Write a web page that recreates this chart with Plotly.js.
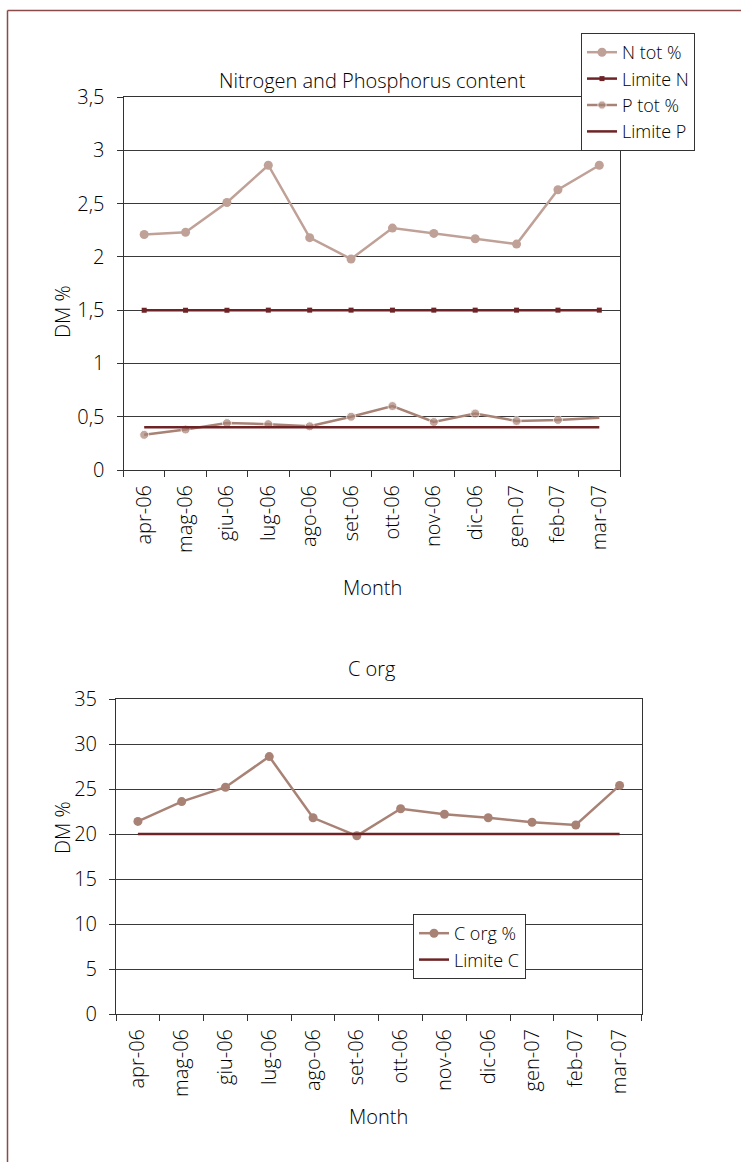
<!DOCTYPE html>
<html>
<head>
<meta charset="utf-8">
<script src="https://cdn.plot.ly/plotly-3.0.1.min.js"></script>
<style>
  html, body { margin: 0; padding: 0; background: #fff; }
  #chart { width: 741px; height: 1162px; }
</style>
</head>
<body>
<div id="chart"></div>
<script>
// Monthly sampling, April 2006 – March 2007
const months = ["apr-06", "mag-06", "giu-06", "lug-06", "ago-06", "set-06",
                "ott-06", "nov-06", "dic-06", "gen-07", "feb-07", "mar-07"];

// Total nitrogen, % of dry matter
const nTot = [2.21, 2.23, 2.51, 2.86, 2.18, 1.98, 2.27, 2.22, 2.17, 2.12, 2.63, 2.86];
// Total phosphorus, % of dry matter
const pTot = [0.33, 0.38, 0.44, 0.43, 0.41, 0.50, 0.60, 0.45, 0.53, 0.46, 0.47, 0.49];
// Organic carbon, % of dry matter
const cOrg = [21.4, 23.6, 25.2, 28.6, 21.8, 19.8, 22.8, 22.2, 21.8, 21.3, 21.0, 25.4];

// Regulatory limits
const limitN = 1.5;
const limitP = 0.4;
const limitC = 20;

const W = 741, H = 1162;
const fx = x => x / W;
const fy = y => 1 - y / H;

const FONT = "'Open Sans', Lato, sans-serif";
const WEIGHT = 300;
const TXT = "#000";
const COL_N = "#c0a197";
const COL_P = "#a98276";
const COL_C = "#a98276";
const COL_LIM = "#6e2426";

const flat = v => months.map(() => v);

const traces = [
  {
    name: "N tot %", x: months, y: nTot, xaxis: "x", yaxis: "y",
    mode: "lines+markers", line: { color: COL_N, width: 2.5 },
    marker: { color: COL_N, size: 9 }, legend: "legend"
  },
  {
    name: "Limite N", x: months, y: flat(limitN), xaxis: "x", yaxis: "y",
    mode: "lines+markers", line: { color: COL_LIM, width: 2.5 },
    marker: { color: COL_LIM, size: 5, symbol: "square" }, legend: "legend"
  },
  {
    name: "P tot %", x: months, y: pTot, xaxis: "x", yaxis: "y",
    mode: "lines+markers", line: { color: COL_P, width: 2.5 },
    marker: { color: COL_P, size: months.map((m, i) => i === months.length - 1 ? 0 : 9) },
    legend: "legend"
  },
  {
    name: "Limite P", x: months, y: flat(limitP), xaxis: "x", yaxis: "y",
    mode: "lines", line: { color: COL_LIM, width: 2.5 }, legend: "legend"
  },
  {
    name: "C org %", x: months, y: cOrg, xaxis: "x2", yaxis: "y2",
    mode: "lines+markers", line: { color: COL_C, width: 2.5 },
    marker: { color: COL_C, size: 9 }, legend: "legend2"
  },
  {
    name: "Limite C", x: months, y: flat(limitC), xaxis: "x2", yaxis: "y2",
    mode: "lines", line: { color: COL_LIM, width: 2.5 }, legend: "legend2"
  }
];

const font = size => ({ family: FONT, size, color: TXT, weight: WEIGHT });

const xCommon = {
  type: "category", range: [-0.5, 11.5], tickangle: -90,
  ticks: "outside", tickson: "boundaries", ticklen: 6, tickcolor: "#333",
  ticklabelstandoff: 6,
  showline: true, linecolor: "#333", linewidth: 1, mirror: true,
  showgrid: false, zeroline: false,
  tickfont: font(20), fixedrange: true
};
const yCommon = {
  ticks: "outside", ticklen: 6, tickcolor: "#333",
  ticklabelstandoff: 8,
  showline: true, linecolor: "#333", linewidth: 1, mirror: true,
  showgrid: true, gridcolor: "#3a3a3a", gridwidth: 1, zeroline: false,
  tickfont: font(20), fixedrange: true
};

const ann = (text, x, y, size, angle) => ({
  text, x: fx(x), y: fy(y), xref: "paper", yref: "paper",
  showarrow: false, textangle: angle || 0, font: font(size)
});

const legendBase = {
  bordercolor: "#333", borderwidth: 1, bgcolor: "#fff",
  font: font(18),
  xanchor: "left", yanchor: "top", tracegroupgap: 0, itemwidth: 30
};

const layout = {
  width: W, height: H,
  margin: { l: 0, r: 0, t: 0, b: 0 },
  paper_bgcolor: "#fff", plot_bgcolor: "#fff",
  separators: ",.",
  font: { family: FONT, color: TXT, weight: WEIGHT },
  xaxis: Object.assign({}, xCommon, { domain: [fx(123.5), fx(620)], anchor: "y" }),
  yaxis: Object.assign({}, yCommon, { domain: [fy(470), fy(97)], anchor: "x",
                                     range: [0, 3.5], dtick: 0.5 }),
  xaxis2: Object.assign({}, xCommon, { domain: [fx(116), fx(641.5)], anchor: "y2" }),
  yaxis2: Object.assign({}, yCommon, { domain: [fy(1014), fy(699)], anchor: "x2",
                                      range: [0, 35], dtick: 5 }),
  legend: Object.assign({}, legendBase, { x: fx(581), y: fy(33) }),
  legend2: Object.assign({}, legendBase, { x: fx(413), y: fy(914) }),
  annotations: [
    ann("Nitrogen and Phosphorus content", 372, 65, 20),
    ann("DM %", 47, 283, 20, -90),
    ann("Month", 372, 587, 20),
    ann("C org", 372, 668, 20),
    ann("DM %", 47, 856, 20, -90),
    ann("Month", 378, 1132, 20)
  ],
  shapes: [
    { type: "line", xref: "paper", yref: "paper",
      x0: fx(7.5), x1: 1, y0: fy(10.5), y1: fy(10.5),
      line: { color: "#8c4a4a", width: 1.5 } },
    { type: "line", xref: "paper", yref: "paper",
      x0: fx(7.5), x1: fx(7.5), y0: fy(10.5), y1: 0,
      line: { color: "#8c4a4a", width: 1.5 } }
  ]
};

Plotly.newPlot("chart", traces, layout, { staticPlot: true, displayModeBar: false });
</script>
</body>
</html>
